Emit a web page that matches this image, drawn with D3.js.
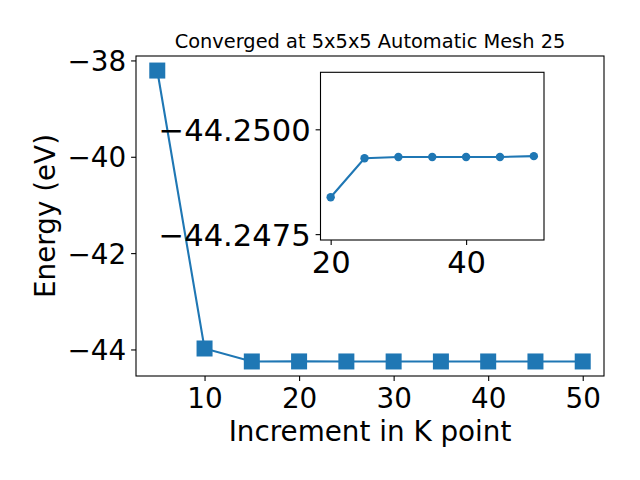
<!DOCTYPE html>
<html><head><meta charset="utf-8">
<script src="https://cdn.jsdelivr.net/npm/d3@7"></script>
<style>body{margin:0;background:#fff}svg{display:block}text{font-family:"DejaVu Sans",sans-serif;fill:#000}</style>
</head><body><svg id="c" width="640" height="480"></svg>
<script>
const kPoints = [5, 10, 15, 20, 25, 30, 35, 40, 45, 50];
const energies = [-38.21, -43.98, -44.2494, -44.24838, -44.24931, -44.24934, -44.24934, -44.24934, -44.24934, -44.24936];
const insetK = [20, 25, 30, 35, 40, 45, 50];
const insetE = [-44.24838, -44.24931, -44.24934, -44.24934, -44.24934, -44.24934, -44.24936];
const mainXTicks = [10, 20, 30, 40, 50];
const mainYTicks = [-38, -40, -42, -44];
const insetXTicks = [20, 40];
const insetYTicks = [-44.2500, -44.2475];
const titleText = "Converged at 5x5x5 Automatic Mesh 25";
const xLabel = "Increment in K point";
const yLabel = "Energy (eV)";

const color = "#1f77b4";
const svg = d3.select("#c");
const fmtMinus = s => s.replace("-", "\u2212");

// main axes
const L = 136, R = 604, T = 56, B = 376;
const x = d3.scaleLinear().domain([2.75, 52.25]).range([L, R]);
const y = d3.scaleLinear().domain([-44.551, -37.908]).range([B, T]);

const gx = svg.append("g").attr("transform", `translate(0,${B})`)
  .call(d3.axisBottom(x).tickValues(mainXTicks).tickSizeOuter(0).tickSize(4.9).tickPadding(4.9).tickFormat(d => d));
const gy = svg.append("g").attr("transform", `translate(${L},0)`)
  .call(d3.axisLeft(y).tickValues(mainYTicks).tickSizeOuter(0).tickSize(4.9).tickPadding(4.9).tickFormat(d => fmtMinus(String(d))));
[gx, gy].forEach(g => {
  g.select(".domain").remove();
  g.selectAll("line").attr("stroke", "#000").attr("stroke-width", 1.1);
  g.selectAll("text").attr("font-size", 27.8).attr("font-family", "DejaVu Sans").attr("fill", "#000");
});
gx.selectAll("text").attr("dy", null).attr("y", 31.5);
gy.selectAll("text").attr("dy", "0.36em");

svg.append("rect").attr("x", L).attr("y", T).attr("width", R - L).attr("height", B - T)
  .attr("fill", "none").attr("stroke", "#000").attr("stroke-width", 1.1);

const line = d3.line().x((d, i) => x(kPoints[i])).y(d => y(d));
svg.append("path").datum(energies).attr("d", line).attr("fill", "none")
  .attr("stroke", color).attr("stroke-width", 2.1);
const ms = 16;
svg.selectAll(".sq").data(energies).enter().append("rect")
  .attr("x", (d, i) => x(kPoints[i]) - ms / 2).attr("y", d => y(d) - ms / 2)
  .attr("width", ms).attr("height", ms).attr("fill", color);

svg.append("text").attr("x", (L + R) / 2).attr("y", 48).attr("text-anchor", "middle")
  .attr("font-size", 19.4).text(titleText);
svg.append("text").attr("x", (L + R) / 2).attr("y", 441).attr("text-anchor", "middle")
  .attr("font-size", 27.8).text(xLabel);
svg.append("text").attr("transform", `translate(55,${(T + B) / 2}) rotate(-90)`).attr("text-anchor", "middle")
  .attr("font-size", 27.8).text(yLabel);

// inset axes
const iL = 320.5, iR = 544, iT = 72.3, iB = 240;
const ix = d3.scaleLinear().domain([18.5, 51.5]).range([iL, iR]);
const iy = d3.scaleLinear().domain([-44.25136, -44.24736]).range([iT, iB]);
svg.append("rect").attr("x", iL).attr("y", iT).attr("width", iR - iL).attr("height", iB - iT)
  .attr("fill", "#fff");
const igx = svg.append("g").attr("transform", `translate(0,${iB})`)
  .call(d3.axisBottom(ix).tickValues(insetXTicks).tickSizeOuter(0).tickSize(4.9).tickPadding(4.9).tickFormat(d => d));
const igy = svg.append("g").attr("transform", `translate(${iL},0)`)
  .call(d3.axisLeft(iy).tickValues(insetYTicks).tickSizeOuter(0).tickSize(4.9).tickPadding(4.9).tickFormat(d => fmtMinus(d.toFixed(4))));
[igx, igy].forEach(g => {
  g.select(".domain").remove();
  g.selectAll("line").attr("stroke", "#000").attr("stroke-width", 1.1);
  g.selectAll("text").attr("font-size", 30.6).attr("font-family", "DejaVu Sans").attr("fill", "#000");
});
igx.selectAll("text").attr("dy", null).attr("y", 32.5);
igy.selectAll("text").attr("dy", "0.36em");
svg.append("rect").attr("x", iL).attr("y", iT).attr("width", iR - iL).attr("height", iB - iT)
  .attr("fill", "none").attr("stroke", "#000").attr("stroke-width", 1.1);
const iline = d3.line().x((d, i) => ix(insetK[i])).y(d => iy(d));
svg.append("path").datum(insetE).attr("d", iline).attr("fill", "none")
  .attr("stroke", color).attr("stroke-width", 2.1);
svg.selectAll(".dot").data(insetE).enter().append("circle")
  .attr("cx", (d, i) => ix(insetK[i])).attr("cy", d => iy(d)).attr("r", 4.2).attr("fill", color);
</script></body></html>
